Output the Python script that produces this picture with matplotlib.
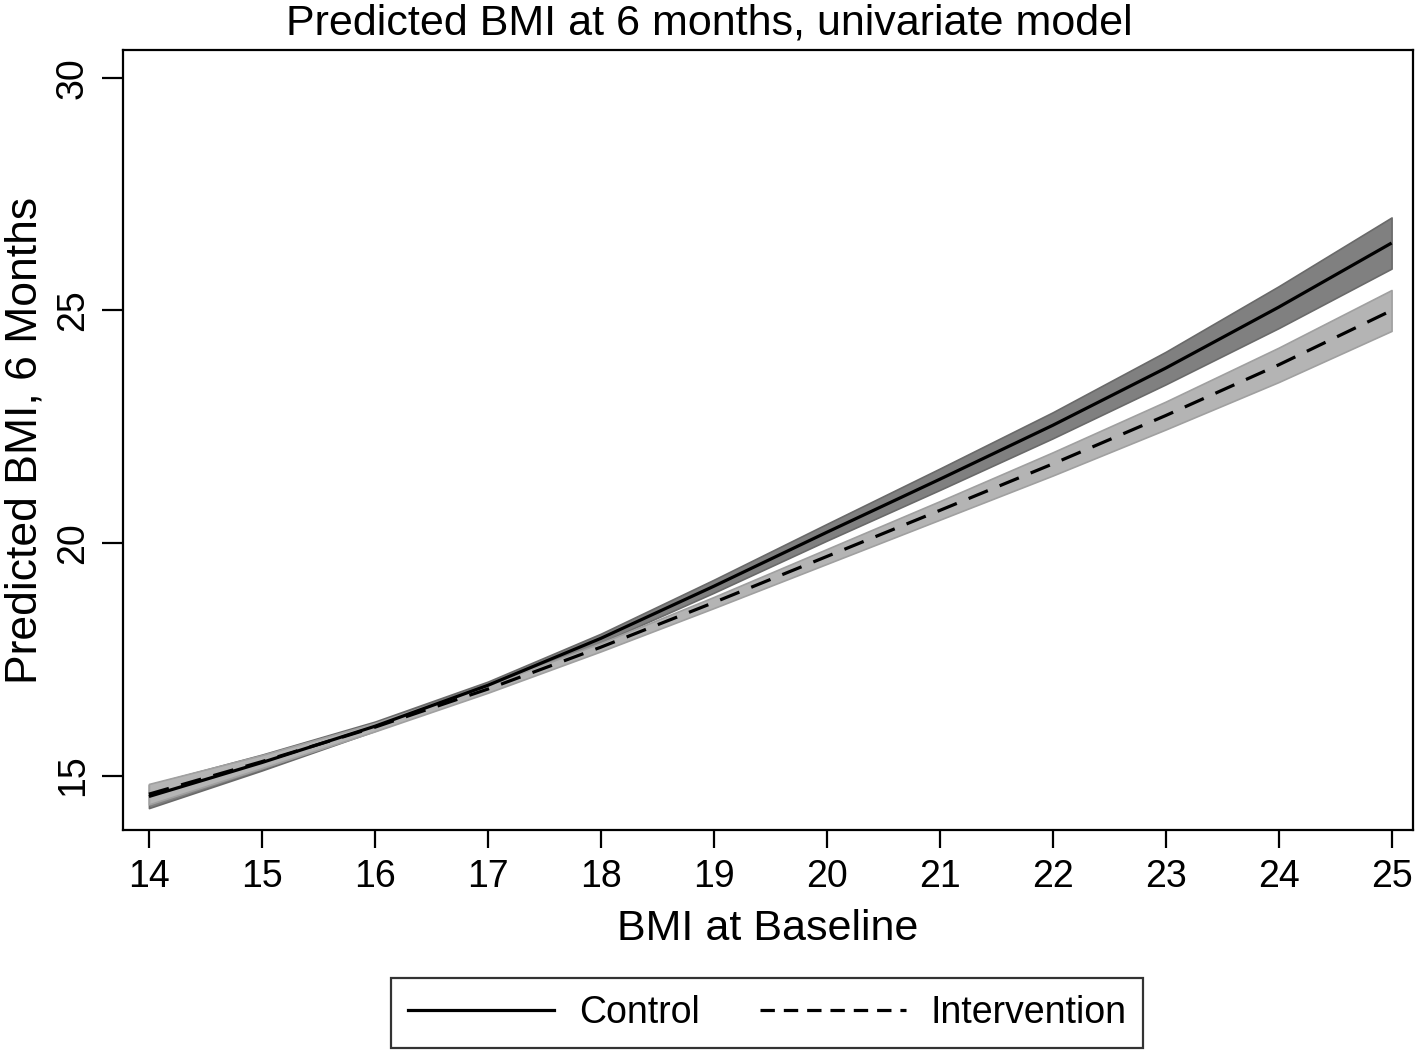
import matplotlib
matplotlib.use("Agg")
import matplotlib.pyplot as plt
from matplotlib.lines import Line2D

plt.rcParams['font.family'] = ['Liberation Sans', 'DejaVu Sans']

# Data
bmi_baseline = [14, 15, 16, 17, 18, 19, 20, 21, 22, 23, 24, 25]
control = [14.55, 15.28, 16.06, 16.94, 17.95, 19.07, 20.23, 21.37, 22.53, 23.76, 25.07, 26.45]
control_lo = [14.30, 15.11, 15.96, 16.86, 17.85, 18.93, 20.05, 21.14, 22.25, 23.41, 24.62, 25.90]
control_hi = [14.80, 15.45, 16.16, 17.02, 18.05, 19.21, 20.41, 21.60, 22.81, 24.11, 25.52, 27.00]
intervention = [14.60, 15.30, 16.04, 16.86, 17.76, 18.72, 19.71, 20.70, 21.70, 22.74, 23.83, 25.00]
intervention_lo = [14.38, 15.16, 15.95, 16.78, 17.67, 18.60, 19.55, 20.50, 21.45, 22.44, 23.46, 24.56]
intervention_hi = [14.82, 15.44, 16.13, 16.94, 17.85, 18.84, 19.87, 20.90, 21.95, 23.04, 24.20, 25.44]

title = "Predicted BMI at 6 months, univariate model"
xlabel = "BMI at Baseline"
ylabel = "Predicted BMI, 6 Months"
xticks = list(range(14, 26))
yticks = [15, 20, 25, 30]

fig = plt.figure(figsize=(14.18, 10.53), dpi=100)
ax = fig.add_axes([0.0867, 0.2118, 0.9098, 0.7407])

ax.fill_between(bmi_baseline, control_lo, control_hi, facecolor='#808080',
                edgecolor='#6a6a6a', linewidth=1.2, zorder=2)
ax.fill_between(bmi_baseline, intervention_lo, intervention_hi, facecolor='#b4b4b4',
                edgecolor='#a0a0a0', linewidth=1.2, zorder=3)
ax.plot(bmi_baseline, control, color='black', lw=2.3, solid_capstyle='butt', zorder=4)
ax.plot(bmi_baseline, intervention, color='black', lw=2.3, dashes=(6.5, 4), zorder=5)

ax.set_xlim(13.77, 25.19)
ax.set_ylim(13.83, 30.6)
ax.set_xticks(xticks)
ax.set_yticks(yticks)
ax.tick_params(axis='both', labelsize=27, width=1.6, length=13, color='black', pad=8)
ax.tick_params(axis='y', length=15)
for lab in ax.get_yticklabels():
    lab.set_rotation(90)
    lab.set_va('center')
for sp in ax.spines.values():
    sp.set_linewidth(1.6)
    sp.set_color('black')

fig.text(0.5, 1 - 34 / 1053, title, fontsize=31, ha='center', va='baseline')
ax.set_xlabel(xlabel, fontsize=31, labelpad=10)
ax.set_ylabel(ylabel, fontsize=32, labelpad=7)

handles = [Line2D([], [], color='black', lw=2.3),
           Line2D([], [], color='black', lw=2.3, dashes=(4.5, 2.8))]
leg = fig.legend(handles, ["Control", "Intervention"], loc='center',
                 bbox_to_anchor=(0.541, 0.038), ncol=2, fontsize=27,
                 frameon=True, fancybox=False, handlelength=3.9,
                 handletextpad=0.65, columnspacing=1.6, borderpad=0.45)
leg.get_frame().set_edgecolor('black')
leg.get_frame().set_linewidth(1.6)

fig.savefig("out.png", dpi=100, facecolor='white')
